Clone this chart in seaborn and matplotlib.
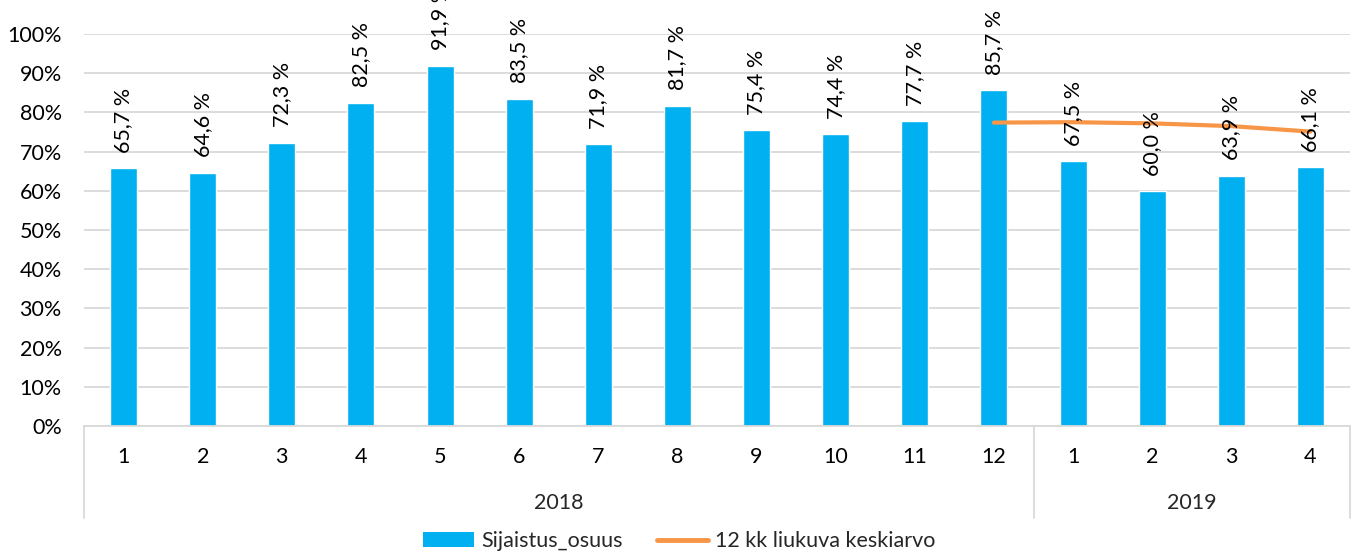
import numpy as np
import matplotlib.pyplot as plt
import seaborn as sns
import pandas as pd
from matplotlib.patches import Patch
from matplotlib.lines import Line2D
import matplotlib.transforms as mtransforms

## data
years = ["2018"] * 12 + ["2019"] * 4
months = [1, 2, 3, 4, 5, 6, 7, 8, 9, 10, 11, 12, 1, 2, 3, 4]
osuus = [65.7, 64.6, 72.3, 82.5, 91.9, 83.5, 71.9, 81.7, 75.4, 74.4, 77.7, 85.7,
         67.5, 60.0, 63.9, 66.1]
# 12 kk liukuva keskiarvo, only from 12/2018 onwards
liukuva = [None] * 11 + [77.4, 77.5, 77.2, 76.5, 75.1]

BLUE = "#00B0F0"
ORANGE = "#F79646"
GRID = "#D9D9D9"
FS = 15.5

df = pd.DataFrame({"year": years, "month": months, "osuus": osuus, "ka": liukuva})
df["cat"] = df["year"] + "-" + df["month"].astype(str)
df["pos"] = np.arange(len(df))

sns.set_theme(style="white")
plt.rcParams["font.family"] = ["Lato", "DejaVu Sans"]

fig = plt.figure(figsize=(13.58, 5.56), dpi=100)
ax = fig.add_axes([84 / 1358, 1 - 426 / 556, 1266 / 1358, 392 / 556])

sns.barplot(data=df, x="cat", y="osuus", color=BLUE, width=0.34, saturation=1, ax=ax)

line_df = df.dropna(subset=["ka"])
ax.plot(line_df["pos"], line_df["ka"], color=ORANGE, lw=3, solid_capstyle="round", zorder=3)

# value labels (rotated, Finnish decimal comma)
for p, v in zip(df["pos"], df["osuus"]):
    ax.annotate(f"{v:.1f} %".replace(".", ","), (p, v), xytext=(0, 11),
                textcoords="offset points", rotation=90, ha="center", va="bottom",
                fontsize=FS, color="black", annotation_clip=False)

ax.set_ylim(0, 100)
ax.set_xlim(-0.5, len(df) - 0.5)
ax.set_yticks(np.arange(0, 101, 10))
ax.set_yticklabels([f"{t}%" for t in range(0, 101, 10)], fontsize=FS)
ax.yaxis.grid(True, color=GRID, lw=1.3)
ax.set_axisbelow(True)
ax.set_xticks(df["pos"])
ax.set_xticklabels([str(m) for m in df["month"]], fontsize=FS)
ax.tick_params(axis="both", length=0, colors="black")
ax.tick_params(axis="x", pad=15)
ax.tick_params(axis="y", pad=16)
ax.set_xlabel("")
ax.set_ylabel("")
for s in ["top", "right", "left"]:
    ax.spines[s].set_visible(False)
ax.spines["bottom"].set_color(GRID)
ax.spines["bottom"].set_linewidth(1.3)

# year grouping under the month labels
trans = mtransforms.blended_transform_factory(ax.transData, ax.transAxes)
n18 = years.count("2018")
for xb in [-0.5, n18 - 0.5, len(df) - 0.5]:
    ax.plot([xb, xb], [0, -92 / 392], color=GRID, lw=1.3, transform=trans, clip_on=False)
ax.text((n18 - 1) / 2, -77 / 392, "2018", transform=trans, ha="center", va="center", fontsize=FS)
ax.text(n18 + (len(df) - n18 - 1) / 2, -77 / 392, "2019", transform=trans,
        ha="center", va="center", fontsize=FS)

handles = [Patch(facecolor=BLUE, edgecolor="none", label="Sijaistus_osuus"),
           Line2D([0], [0], color=ORANGE, lw=3.5, label="12 kk liukuva keskiarvo")]
fig.legend(handles=handles, loc="center", bbox_to_anchor=(0.5, 15 / 556), ncol=2,
           frameon=False, fontsize=FS, handlelength=2.4, handleheight=0.65,
           columnspacing=1.6, handletextpad=0.3)

plt.savefig("out.png", dpi=100)
plt.close()
